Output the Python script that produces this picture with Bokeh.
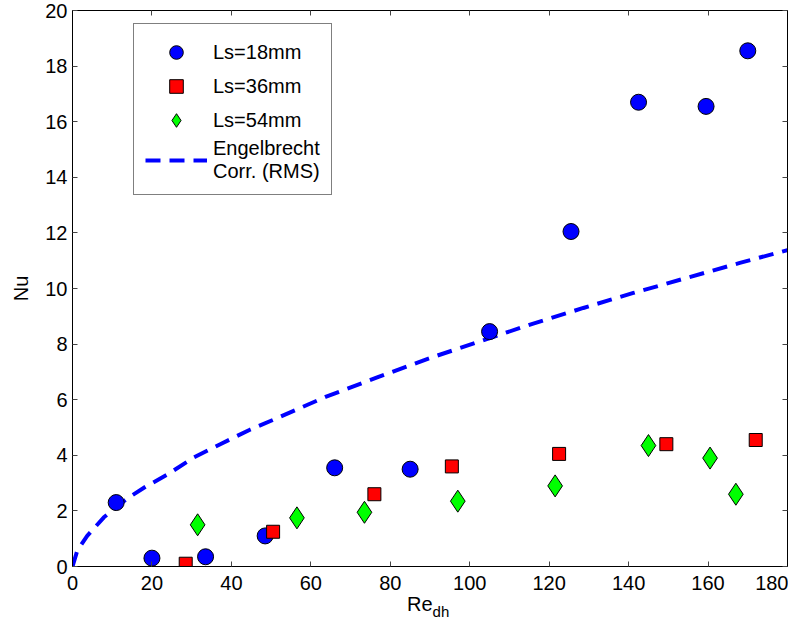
from bokeh.plotting import figure
from bokeh.models import LinearAxis, Range1d, Legend, LegendItem, FixedTicker, Div
from bokeh.layouts import column
from bokeh.embed import file_html
from bokeh.resources import INLINE

# ---- data ----
re_18 = [11, 20, 33.5, 48.5, 66, 85, 105, 125.5, 142.5, 159.5, 170]
nu_18 = [2.3, 0.3, 0.35, 1.1, 3.55, 3.5, 8.45, 12.05, 16.7, 16.55, 18.55]

re_36 = [28.5, 50.5, 76, 95.5, 122.5, 149.5, 172]
nu_36 = [0.1, 1.25, 2.6, 3.6, 4.05, 4.4, 4.55]

re_54 = [31.5, 56.5, 73.5, 97, 121.5, 145, 160.5, 167]
nu_54 = [1.5, 1.75, 1.95, 2.35, 2.9, 4.35, 3.9, 2.6]

re_corr = [0, 1.2, 3.7, 7.9, 13.8, 18.4, 23.8, 30.5, 37.2, 44.8, 50.6, 63.7,
           76.7, 89.6, 102.6, 115.6, 128.6, 141.2, 154.6, 168, 180]
nu_corr = [0, 0.57, 1.1, 1.77, 2.45, 2.87, 3.3, 3.92, 4.4, 4.93, 5.28, 6.1,
           6.8, 7.48, 8.1, 8.72, 9.3, 9.84, 10.38, 10.92, 11.38]

x_ticks = [0, 20, 40, 60, 80, 100, 120, 140, 160, 180]
y_ticks = [0, 2, 4, 6, 8, 10, 12, 14, 16, 18, 20]

FONT = "Liberation Sans"
FS = "20px"

p = figure(width=788, height=594, output_backend="svg", toolbar_location=None,
           x_range=Range1d(0, 180), y_range=Range1d(0, 20),
           min_border_left=72, min_border_right=1, min_border_top=10, min_border_bottom=28)
p.background_fill_color = "white"
p.border_fill_color = "white"
p.grid.visible = False
p.outline_line_color = "black"
p.outline_line_width = 1

def style_axis(ax, ticks, labels=True):
    ax.ticker = FixedTicker(ticks=ticks)
    ax.minor_tick_line_color = None
    ax.major_tick_in = 5
    ax.major_tick_out = 0
    ax.major_tick_line_color = "#444444"
    ax.axis_line_color = "black"
    ax.axis_line_width = 1
    if labels:
        ax.major_label_text_font = FONT
        ax.major_label_text_font_size = FS
        ax.major_label_text_color = "black"
    else:
        ax.major_label_text_font_size = "0px"
        ax.major_label_standoff = 0

style_axis(p.xaxis[0], x_ticks)
p.xaxis[0].major_label_standoff = 9
style_axis(p.yaxis[0], y_ticks)
p.yaxis[0].major_label_standoff = 5
p.yaxis[0].axis_label = "Nu"
p.yaxis[0].axis_label_text_font = FONT
p.yaxis[0].axis_label_text_font_size = FS
p.yaxis[0].axis_label_text_font_style = "normal"
p.yaxis[0].axis_label_text_color = "black"
p.yaxis[0].axis_label_standoff = 10

top_ax = LinearAxis()
style_axis(top_ax, x_ticks, labels=False)
p.add_layout(top_ax, "above")
right_ax = LinearAxis()
style_axis(right_ax, y_ticks, labels=False)
p.add_layout(right_ax, "right")

r_line = p.line(re_corr, nu_corr, line_color="#0000FF", line_width=4, line_dash="15 9")
r18 = p.scatter(re_18, nu_18, marker="circle", size=16, fill_color="#0000FF", line_color="black", line_width=1)
r36 = p.scatter(re_36, nu_36, marker="square", size=13, fill_color="#FF0000", line_color="black", line_width=1)
r54 = p.scatter(re_54, nu_54, marker="diamond", size=22, fill_color="#00FF00", line_color="black", line_width=1)

legend = Legend(items=[
    LegendItem(label="Ls=18mm", renderers=[r18]),
    LegendItem(label="Ls=36mm", renderers=[r36]),
    LegendItem(label="Ls=54mm", renderers=[r54]),
    LegendItem(label="Engelbrecht\nCorr. (RMS)", renderers=[r_line]),
], location=(61, 371))
legend.label_text_font = FONT
legend.label_text_font_size = FS
legend.label_text_color = "black"
legend.glyph_width = 62
legend.glyph_height = 34
legend.spacing = 0
legend.padding = 11
legend.margin = 0
legend.label_standoff = 6
legend.border_line_color = "black"
legend.border_line_width = 1
legend.background_fill_color = "white"
legend.background_fill_alpha = 1
p.add_layout(legend, "center")

xlabel = Div(
    text='Re<span style="font-size:15px;position:relative;top:6px;">dh</span>',
    width=100, height=25, margin=(0, 0, 0, 407),
    styles={"font-family": FONT, "font-size": "20px", "line-height": "20px",
            "color": "black", "white-space": "nowrap"},
)

layout = column(p, xlabel, spacing=0)
open("out.html", "w").write(file_html(layout, INLINE))
